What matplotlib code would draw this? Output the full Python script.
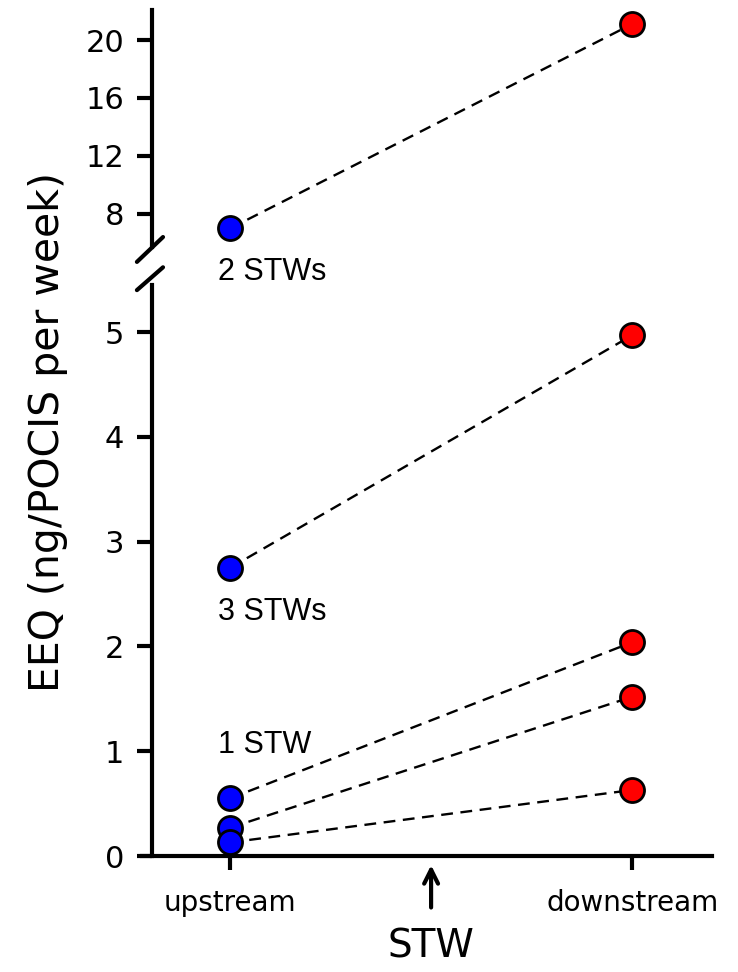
import matplotlib
matplotlib.use('Agg')
import matplotlib.pyplot as plt

# dados
posicoes = [0, 1]
nomes_x = ['upstream', 'downstream']
montante = [7.0, 2.75, 0.55, 0.27, 0.13]
jusante = [21.1, 4.97, 2.04, 1.52, 0.63]
rotulos = ['2 STWs', '3 STWs', '1 STW']
rotulos_y = [3.97, 2.33, 1.06]

fonte_mao = 'DejaVu Sans'
fonte_arial = 'Liberation Sans'

fig = plt.figure(figsize=(7.38, 9.72), dpi=100)
ax_cima = fig.add_axes([0.206, 0.7459, 0.759, 0.2438])
ax_baixo = fig.add_axes([0.206, 0.1193, 0.759, 0.5875])
ax_cima.set_ylim(5.72, 22.07)
ax_baixo.set_ylim(0, 5.45)

for ax in (ax_cima, ax_baixo):
    y0, y1 = ax.get_ylim()
    for i in range(len(montante)):
        ax.plot(posicoes, [montante[i], jusante[i]], '--', color='black', lw=1.7,
                dashes=(5, 3.2), zorder=2)
    m = [v for v in montante if y0 <= v <= y1]
    j = [v for v in jusante if y0 <= v <= y1]
    ax.scatter([posicoes[0]] * len(m), m, s=300, color='#0000ff',
               edgecolor='black', linewidth=2, zorder=3, clip_on=False)
    ax.scatter([posicoes[1]] * len(j), j, s=300, color='#ff0000',
               edgecolor='black', linewidth=2, zorder=3, clip_on=False)
    ax.set_xlim(-0.194, 1.199)
    ax.spines['right'].set_visible(False)
    ax.spines['top'].set_visible(False)
    ax.spines['left'].set_linewidth(3)
    ax.spines['bottom'].set_linewidth(3)
    ax.tick_params(axis='y', direction='out', length=11, width=3, labelsize=22, pad=9)

ax_cima.set_yticks([8, 12, 16, 20])
ax_cima.spines['bottom'].set_visible(False)
ax_cima.set_xticks([])
for t in ax_cima.get_yticklabels():
    t.set_fontfamily(fonte_mao)

ax_baixo.set_yticks([0, 1, 2, 3, 4, 5])
ax_baixo.set_xticks(posicoes)
ax_baixo.set_xticklabels(nomes_x, fontsize=20, fontfamily=fonte_mao)
ax_baixo.tick_params(axis='x', direction='out', length=10, width=3, pad=14)
for t in ax_baixo.get_yticklabels():
    t.set_fontfamily(fonte_mao)
# eixo x passa um pouco a esquerda do eixo y
ax_baixo.spines['bottom'].set_bounds(-0.22, 1.199)

# marcas de quebra do eixo
ax_cima.plot([-0.027, 0.0196], [-0.063, 0.042], color='black', lw=3,
             transform=ax_cima.transAxes, clip_on=False, solid_capstyle='round')
ax_baixo.plot([-0.027, 0.0196], [0.991, 1.031], color='black', lw=3,
              transform=ax_baixo.transAxes, clip_on=False, solid_capstyle='round')

# rotulos das estacoes
ax_cima.text(-0.03, rotulos_y[0], rotulos[0], fontsize=22, fontfamily=fonte_arial,
             va='center', ha='left', clip_on=False)
ax_baixo.text(-0.03, rotulos_y[1], rotulos[1], fontsize=22, fontfamily=fonte_arial,
              va='center', ha='left')
ax_baixo.text(-0.03, rotulos_y[2], rotulos[2], fontsize=22, fontfamily=fonte_arial,
              va='center', ha='left')

# seta STW
ax_baixo.annotate('', xy=(0.5, -0.011), xytext=(0.5, -0.095),
                  xycoords=('data', 'axes fraction'), textcoords=('data', 'axes fraction'),
                  arrowprops=dict(arrowstyle='->', lw=3, color='black',
                                  mutation_scale=25))
ax_baixo.text(0.5, -0.158, 'STW', fontsize=28, fontfamily=fonte_mao, ha='center',
              va='center', transform=ax_baixo.get_xaxis_transform())

fig.text(0.065, 0.556, 'EEQ (ng/POCIS per week)', fontsize=29.5, fontfamily=fonte_mao,
         rotation=90, ha='center', va='center')

fig.savefig('out.png', dpi=100)
